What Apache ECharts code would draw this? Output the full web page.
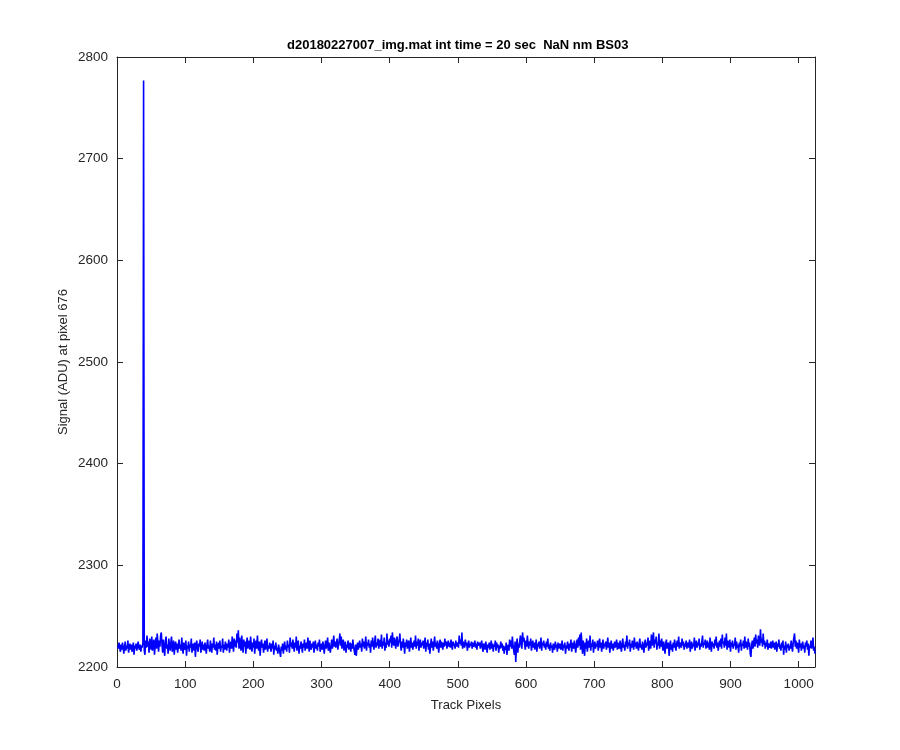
<!DOCTYPE html>
<html>
<head>
<meta charset="utf-8">
<script src="https://cdn.jsdelivr.net/npm/echarts@6/dist/echarts.min.js"></script>
<style>html,body{margin:0;padding:0;background:#fff}#c{width:900px;height:750px}</style>
</head>
<body>
<div id="c"></div>
<script>
const titleText = "d20180227007_img.mat int time = 20 sec  NaN nm BS03";
const xLabel = "Track Pixels";
const yLabel = "Signal (ADU) at pixel 676";
const xTicks = [0,100,200,300,400,500,600,700,800,900,1000];
const yTicks = [2200,2300,2400,2500,2600,2700,2800];
const signal = [
2221,2218,2224,2219,2215,2222,2217,2224,2220,2213,2219,2225,2216,2221,2218,2226,2214,2220,2223,2217,2222,2215,2219,2224,2212,2221,2218,2223,2216,2220,2225,2219,
2217,2222,2215,2221,2219,2224,2777,2216,2212,2226,2219,2231,2220,2225,2214,2228,2222,2217,2230,2216,2223,2227,2212,2221,2229,2218,2233,2224,2215,2226,2220,2231,
2234,2222,2214,2227,2219,2211,2225,2230,2218,2222,2213,2228,2221,2216,2224,2230,2215,2219,2226,2212,2221,2225,2217,2223,2214,2220,2227,2218,2222,2216,2229,2219,
2213,2224,2220,2217,2226,2211,2221,2218,2225,2215,2222,2219,2228,2214,2220,2223,2216,2224,2210,2221,2226,2218,2215,2223,2220,2227,2214,2219,2225,2217,2222,2216,
2224,2219,2213,2222,2227,2218,2221,2215,2226,2220,2214,2223,2219,2229,2217,2222,2216,2225,2212,2220,2224,2218,2226,2215,2221,2219,2228,2214,2222,2217,2225,2220,
2216,2223,2219,2227,2214,2221,2225,2218,2230,2222,2215,2228,2220,2226,2219,2233,2224,2236,2218,2229,2221,2216,2231,2222,2214,2227,2220,2225,2213,2223,2229,2218,
2222,2226,2217,2230,2221,2215,2224,2219,2228,2213,2222,2226,2218,2231,2220,2216,2225,2211,2221,2227,2219,2223,2214,2220,2226,2217,2222,2228,2215,2221,2218,2224,
2220,2215,2223,2218,2226,2212,2221,2217,2224,2216,2219,2213,2222,2218,2214,2210,2220,2216,2223,2213,2219,2225,2217,2221,2215,2226,2219,2222,2214,2229,2220,2224,
2218,2227,2221,2215,2224,2219,2230,2216,2222,2226,2213,2221,2218,2225,2220,2214,2223,2219,2227,2216,2221,2224,2218,2229,2222,2215,2226,2220,2217,2223,2219,2225,
2214,2221,2226,2218,2222,2216,2224,2220,2227,2215,2219,2223,2217,2225,2221,2213,2220,2226,2218,2222,2229,2216,2224,2219,2214,2221,2227,2218,2223,2231,2220,2225,
2219,2224,2228,2217,2222,2226,2233,2221,2230,2218,2223,2227,2216,2220,2225,2214,2222,2219,2226,2217,2221,2224,2215,2223,2218,2227,2220,2216,2212,2222,2211,2219,
2224,2217,2221,2226,2219,2223,2215,2228,2220,2225,2218,2222,2230,2216,2224,2221,2227,2219,2223,2214,2226,2220,2229,2222,2217,2225,2231,2219,2224,2221,2228,2218,
2223,2227,2220,2232,2218,2225,2221,2229,2216,2224,2219,2233,2222,2226,2220,2228,2224,2231,2219,2234,2225,2221,2229,2223,2218,2227,2230,2220,2224,2226,2233,2221,
2216,2225,2219,2228,2222,2213,2224,2220,2227,2218,2223,2226,2215,2221,2229,2219,2224,2217,2222,2226,2220,2231,2218,2225,2221,2228,2216,2223,2227,2219,2224,2221,
2226,2218,2222,2229,2215,2224,2220,2227,2217,2223,2213,2221,2228,2219,2225,2216,2222,2230,2220,2224,2218,2226,2221,2214,2223,2227,2219,2225,2222,2217,2224,2220,
2228,2221,2225,2218,2223,2226,2220,2224,2219,2227,2222,2217,2225,2221,2223,2218,2226,2220,2224,2222,2219,2231,2223,2227,2221,2234,2218,2225,2222,2219,2227,2221,
2224,2216,2222,2226,2219,2223,2221,2225,2218,2224,2220,2222,2226,2219,2223,2217,2225,2221,2220,2224,2218,2222,2226,2219,2215,2223,2221,2217,2225,2220,2214,2222,
2219,2224,2217,2221,2226,2218,2223,2215,2222,2220,2226,2216,2224,2219,2222,2214,2221,2218,2225,2219,2223,2216,2221,2213,2220,2217,2224,2212,2219,2222,2216,2227,
2220,2226,2218,2230,2222,2216,2212,2225,2205,2220,2228,2214,2223,2219,2227,2231,2221,2218,2234,2225,2229,2222,2217,2226,2220,2231,2223,2218,2225,2221,2228,2216,
2222,2226,2219,2224,2217,2221,2227,2215,2223,2220,2225,2218,2222,2229,2216,2224,2221,2226,2219,2223,2217,2225,2220,2228,2218,2222,2216,2224,2219,2221,2214,2223,
2220,2217,2225,2219,2222,2215,2224,2218,2221,2223,2217,2220,2226,2216,2222,2219,2224,2213,2221,2218,2225,2220,2216,2223,2219,2227,2215,2221,2224,2218,2226,2220,
2214,2222,2227,2219,2229,2221,2232,2217,2234,2223,2213,2226,2220,2211,2224,2218,2228,2215,2222,2226,2219,2231,2216,2223,2220,2227,2214,2221,2225,2218,2223,2220,
2226,2216,2222,2228,2219,2224,2215,2221,2227,2218,2223,2220,2225,2217,2222,2229,2219,2224,2214,2221,2226,2218,2223,2216,2220,2225,2219,2222,2227,2217,2224,2220,
2218,2226,2221,2215,2223,2228,2219,2222,2216,2225,2220,2231,2218,2224,2221,2227,2215,2223,2219,2226,2222,2217,2229,2220,2224,2218,2225,2221,2216,2223,2228,2219,
2222,2217,2225,2220,2214,2223,2227,2219,2224,2221,2229,2216,2222,2226,2218,2232,2221,2225,2234,2219,2227,2223,2230,2217,2224,2221,2233,2218,2226,2220,2228,2222,
2216,2225,2219,2213,2223,2227,2218,2221,2224,2211,2220,2226,2217,2222,2215,2224,2219,2227,2221,2216,2223,2226,2220,2230,2218,2224,2222,2219,2228,2221,2225,2217,
2223,2220,2226,2218,2222,2224,2219,2227,2215,2221,2225,2218,2223,2220,2229,2216,2222,2226,2219,2224,2221,2228,2217,2223,2220,2225,2231,2219,2224,2222,2227,2218,
2221,2226,2219,2224,2217,2229,2222,2215,2225,2220,2223,2218,2227,2221,2230,2219,2224,2216,2222,2226,2220,2228,2218,2232,2223,2225,2219,2229,2221,2233,2217,2226,
2222,2219,2227,2215,2224,2220,2226,2218,2223,2221,2229,2217,2225,2219,2222,2214,2224,2220,2227,2216,2223,2221,2226,2218,2230,2219,2225,2222,2217,2228,2220,2224,
2213,2210,2221,2226,2218,2224,2229,2220,2232,2223,2227,2219,2231,2225,2221,2237,2224,2228,2220,2233,2222,2226,2218,2224,2220,2227,2217,2223,2221,2219,2225,2218,
2222,2226,2219,2224,2217,2221,2225,2215,2223,2220,2227,2218,2222,2216,2224,2219,2226,2212,2221,2217,2225,2214,2222,2219,2223,2216,2221,2218,2226,2220,2215,2224,
2229,2233,2220,2226,2218,2224,2221,2214,2227,2219,2223,2216,2222,2225,2218,2221,2214,2224,2220,2226,2217,2223,2211,2221,2219,2226,2218,2222,2229,2216,2220,2213
];
const pixels = signal.map((v, i) => i + 1);

const axisColor = '#262626';
const font = 'Liberation Sans, Arial, Helvetica, sans-serif';
const xMin = xTicks[0], xMax = 1024, xStep = xTicks[1] - xTicks[0];
const yMin = yTicks[0], yMax = yTicks[yTicks.length - 1], yStep = yTicks[1] - yTicks[0];
const plain = v => String(v);

const chart = echarts.init(document.getElementById('c'), null, {renderer: 'canvas'});
const baseAxis = {
  type: 'value',
  axisLine: {show: true, onZero: false, lineStyle: {color: axisColor, width: 1}},
  axisTick: {show: true, inside: true, length: 6, lineStyle: {color: axisColor}},
  splitLine: {show: false},
  axisLabel: {color: axisColor, fontSize: 13.5, fontFamily: font, showMaxLabel: false, formatter: plain}
};
chart.setOption({
  animation: false,
  backgroundColor: '#ffffff',
  title: {
    text: titleText, left: 282, top: 34,
    textStyle: {fontSize: 13, fontWeight: 'bold', color: '#000', fontFamily: font}
  },
  grid: {left: 117, right: 85, top: 57, bottom: 83, containLabel: false},
  xAxis: [
    Object.assign({}, baseAxis, {
      min: xMin, max: xMax, interval: xStep, position: 'bottom',
      name: xLabel, nameLocation: 'middle', nameGap: 32, nameMoveOverlap: false,
      nameTextStyle: {color: axisColor, fontSize: 13, fontFamily: font},
      axisLabel: Object.assign({}, baseAxis.axisLabel, {margin: 10})
    }),
    Object.assign({}, baseAxis, {
      min: xMin, max: xMax, interval: xStep, position: 'top',
      axisLabel: {show: false}
    })
  ],
  yAxis: [
    Object.assign({}, baseAxis, {
      min: yMin, max: yMax, interval: yStep, position: 'left',
      name: yLabel, nameLocation: 'middle', nameGap: 47, nameMoveOverlap: false,
      nameTextStyle: {color: axisColor, fontSize: 13, fontFamily: font},
      axisLabel: Object.assign({}, baseAxis.axisLabel, {showMaxLabel: true, margin: 9})
    }),
    Object.assign({}, baseAxis, {
      min: yMin, max: yMax, interval: yStep, position: 'right',
      axisLabel: {show: false}
    })
  ],
  series: [{
    type: 'line',
    data: pixels.map((x, i) => [x, signal[i]]),
    xAxisIndex: 0, yAxisIndex: 0,
    showSymbol: false, symbol: 'none',
    lineStyle: {color: '#0000ff', width: 1.6},
    clip: true
  }]
});
</script>
</body>
</html>
